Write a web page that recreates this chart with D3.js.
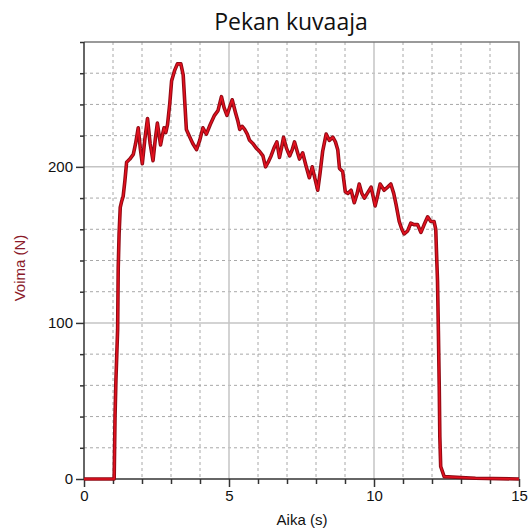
<!DOCTYPE html>
<html>
<head>
<meta charset="utf-8">
<script src="https://cdn.jsdelivr.net/npm/d3@7"></script>
<style>
html,body{margin:0;padding:0;background:#fff;}
svg{display:block;}
</style>
</head>
<body>
<svg id="chart" width="529" height="528"></svg>
<script>
const titleText = "Pekan kuvaaja";
const xLabel = "Aika (s)";
const yLabel = "Voima (N)";
const xTickLabels = [0, 5, 10, 15];
const yTickLabels = [0, 100, 200];

const timeS = [0,1.04,1.07,1.10,1.16,1.18,1.21,1.25,1.30,1.35,1.41,1.47,1.58,1.70,1.78,1.87,1.94,2.01,2.10,2.19,
2.28,2.38,2.46,2.53,2.64,2.70,2.76,2.82,2.88,2.96,3.02,3.13,3.22,3.34,3.42,3.47,3.53,3.65,3.75,3.88,
3.99,4.10,4.22,4.35,4.50,4.62,4.74,4.83,4.93,5.02,5.11,5.22,5.31,5.37,5.45,5.54,5.63,5.71,5.82,5.94,
6.05,6.17,6.26,6.35,6.45,6.55,6.65,6.74,6.81,6.88,6.98,7.09,7.18,7.26,7.35,7.43,7.54,7.65,7.77,7.87,
7.97,8.06,8.14,8.23,8.35,8.46,8.58,8.67,8.75,8.81,8.92,9.01,9.10,9.21,9.32,9.42,9.49,9.58,9.67,9.80,
9.90,10.04,10.13,10.21,10.35,10.47,10.58,10.68,10.76,10.87,10.96,11.04,11.16,11.27,11.38,11.50,11.62,11.73,11.85,11.96,
12.07,12.13,12.15,12.19,12.22,12.25,12.27,12.30,12.42,13.0,13.5,15];
const forceN = [0,0,40,63,96,135,157,174,178,181,191,203,205,208,215,225,212,202,218,231,
215,204,218,228,214,220,225,222,227,241,255,262,266,266,259,243,224,219,215,211,
217,225,221,227,233,236,245,238,233,238,243,235,229,224,226,224,221,217,215,212,
210,207,200,203,207,212,216,206,212,219,212,207,211,216,210,205,209,201,193,200,
192,185,196,210,221,217,219,216,211,199,197,184,183,185,177,183,189,183,180,184,
187,175,182,189,185,187,189,183,176,165,160,157,159,164,163,163,158,163,168,165,
165,160,148,127,95,59,27,8,1.5,1,0.5,0];

const data = d3.zip(timeS, forceN);

const svg = d3.select("#chart");
const L = 84, R = 519, T = 42, B = 479;
const x = d3.scaleLinear().domain([0, 15]).range([L, R]);
const y = d3.scaleLinear().domain([0, 280]).range([B, T]);

// minor dashed grid
const g = svg.append("g");
g.selectAll(".vx").data(d3.range(1, 15).filter(v => v % 5 !== 0)).join("line")
  .attr("x1", d => x(d)).attr("x2", d => x(d)).attr("y1", T).attr("y2", B)
  .attr("stroke", "#a8a8a8").attr("stroke-width", 1).attr("stroke-dasharray", "3,3");
g.selectAll(".hy").data(d3.range(20, 280, 20).filter(v => v % 100 !== 0)).join("line")
  .attr("x1", L).attr("x2", R).attr("y1", d => y(d)).attr("y2", d => y(d))
  .attr("stroke", "#a8a8a8").attr("stroke-width", 1).attr("stroke-dasharray", "3,3");
// major solid grid
g.selectAll(".mx").data([5, 10]).join("line")
  .attr("x1", d => x(d)).attr("x2", d => x(d)).attr("y1", T).attr("y2", B)
  .attr("stroke", "#c4c4c4").attr("stroke-width", 1.5);
g.selectAll(".my").data([100, 200]).join("line")
  .attr("x1", L).attr("x2", R).attr("y1", d => y(d)).attr("y2", d => y(d))
  .attr("stroke", "#c4c4c4").attr("stroke-width", 1.5);

// frame top/right
svg.append("path")
  .attr("d", `M${L},${T}H${R}V${B}`)
  .attr("fill", "none").attr("stroke", "#7a7a7a").attr("stroke-width", 1.5);

// axes
const font = "'Liberation Sans', Arial, sans-serif";
const xAxis = d3.axisBottom(x).tickValues(d3.range(0, 16, 1))
  .tickSize(5).tickFormat(d => xTickLabels.includes(d) ? d : "");
const gx = svg.append("g").attr("transform", `translate(0,${B})`).call(xAxis);
gx.selectAll(".tick line").attr("y2", d => d % 5 === 0 ? 8 : 5);
gx.selectAll(".tick text").attr("y", 11).attr("font-size", 15).attr("font-family", font).attr("fill", "#111");
gx.select(".domain").attr("stroke", "#333").attr("stroke-width", 1.5).attr("d", `M${L},0H${R}`);
gx.selectAll(".tick line").attr("stroke", "#333").attr("stroke-width", 1.5);

const yAxis = d3.axisLeft(y).tickValues(d3.range(0, 281, 20))
  .tickSize(4).tickFormat(d => yTickLabels.includes(d) ? d : "");
const gy = svg.append("g").attr("transform", `translate(${L},0)`).call(yAxis);
gy.selectAll(".tick line").attr("x2", d => d % 100 === 0 ? -8 : -4)
  .attr("stroke", "#333").attr("stroke-width", 1.5);
gy.selectAll(".tick text").attr("x", -11).attr("font-size", 15).attr("font-family", font).attr("fill", "#111");
gy.select(".domain").attr("stroke", "#333").attr("stroke-width", 1.5).attr("d", `M0,${B}V${T}`);

// line
const line = d3.line().x(d => x(d[0])).y(d => y(d[1]));
svg.append("path").datum(data).attr("d", line)
  .attr("fill", "none").attr("stroke", "#8e0a14").attr("stroke-width", 3.6)
  .attr("stroke-linejoin", "round");
svg.append("path").datum(data).attr("d", line)
  .attr("fill", "none").attr("stroke", "#e3101e").attr("stroke-width", 1.6)
  .attr("stroke-linejoin", "round");

// title & labels
svg.append("text").attr("x", 291).attr("y", 30).attr("text-anchor", "middle")
  .attr("font-family", "'Open Sans', sans-serif").attr("font-size", 23).attr("fill", "#111")
  .text(titleText);
svg.append("text").attr("x", 302).attr("y", 525).attr("text-anchor", "middle")
  .attr("font-family", font).attr("font-size", 15).attr("fill", "#111").text(xLabel);
svg.append("text").attr("transform", "translate(25,268) rotate(-90)").attr("text-anchor", "middle")
  .attr("font-family", font).attr("font-size", 15).attr("fill", "#8b1a2a").text(yLabel);
</script>
</body>
</html>
